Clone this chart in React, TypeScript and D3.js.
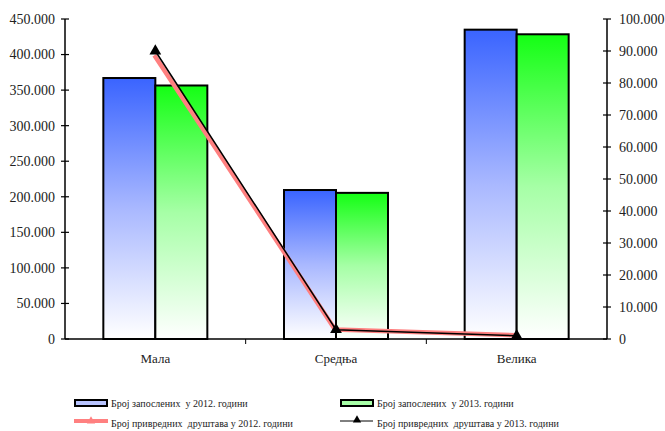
import React from "react";
import * as d3 from "d3";

const categories = ["Мала", "Средња", "Велика"];
const employees2012 = [367000, 209500, 435000];
const employees2013 = [356500, 205500, 428500];
const companies2012 = [89000, 3300, 1500];
const companies2013 = [90000, 2900, 1000];
const leftTicks = [0, 50000, 100000, 150000, 200000, 250000, 300000, 350000, 400000, 450000];
const rightTicks = [0, 10000, 20000, 30000, 40000, 50000, 60000, 70000, 80000, 90000, 100000];
const legendLabels = [
  "Број запослених  у 2012. години",
  "Број запослених  у 2013. години",
  "Број привредних  друштава у 2012. години",
  "Број привредних  друштава у 2013. години",
];

const fmt = (v: number) => (v === 0 ? "0" : d3.format(",")(v).replace(/,/g, "."));

export default function App() {
  const W = 665, H = 431;
  const x0 = 65, x1 = 607, yTop = 19, yBot = 339;
  const x = d3.scaleBand().domain(categories).range([x0, x1]);
  const yL = d3.scaleLinear().domain([0, 450000]).range([yBot, yTop]);
  const yR = d3.scaleLinear().domain([0, 100000]).range([yBot, yTop]);
  const barW = 52;
  const fontStyle = { fontFamily: '"Liberation Serif"' };
  const legStyle = { fontFamily: '"Liberation Serif"', whiteSpace: "pre" as const };
  const line = d3.line<number>().x((_, i) => x(categories[i])! + x.bandwidth() / 2).y((d) => yR(d));
  const tri = d3.symbol().type(d3.symbolTriangle).size(60)();
  const triSmall = d3.symbol().type(d3.symbolTriangle).size(30)();

  return (
    <svg width={W} height={H} style={{ position: "absolute", left: 0, top: 0, ...fontStyle }}>
      <defs>
        <linearGradient id="gBlue" x1="0" y1="0" x2="0" y2="1">
          <stop offset="0" stopColor="#3a64ff" />
          <stop offset="0.5" stopColor="#a9b8ff" />
          <stop offset="1" stopColor="#ffffff" />
        </linearGradient>
        <linearGradient id="gGreen" x1="0" y1="0" x2="0" y2="1">
          <stop offset="0" stopColor="#14ff14" />
          <stop offset="0.5" stopColor="#a6ffa6" />
          <stop offset="1" stopColor="#ffffff" />
        </linearGradient>
      </defs>
      <rect width={W} height={H} fill="#fff" />
      {categories.map((c, i) => {
        const cx = x(c)! + x.bandwidth() / 2;
        return (
          <g key={c}>
            <rect x={cx - barW} y={yL(employees2012[i])} width={barW} height={yBot - yL(employees2012[i])}
              fill="url(#gBlue)" stroke="#000" strokeWidth={2} />
            <rect x={cx} y={yL(employees2013[i])} width={barW} height={yBot - yL(employees2013[i])}
              fill="url(#gGreen)" stroke="#000" strokeWidth={2} />
          </g>
        );
      })}
      <line x1={x0} x2={x0} y1={yTop} y2={yBot} stroke="#000" strokeWidth={1.5} />
      {leftTicks.map((t) => (
        <g key={t}>
          <line x1={x0 - 4} x2={x0 + 4} y1={yL(t)} y2={yL(t)} stroke="#000" strokeWidth={1.2} />
          <text x={55} y={yL(t)} dy="0.35em" textAnchor="end" fontSize={14} fill="#222" style={fontStyle}>{fmt(t)}</text>
        </g>
      ))}
      <line x1={x1} x2={x1} y1={yTop} y2={yBot} stroke="#000" strokeWidth={1.5} />
      {rightTicks.map((t) => (
        <g key={t}>
          <line x1={x1 - 4} x2={x1 + 4} y1={yR(t)} y2={yR(t)} stroke="#000" strokeWidth={1.2} />
          <text x={619} y={yR(t)} dy="0.35em" textAnchor="start" fontSize={14} fill="#222" style={fontStyle}>{fmt(t)}</text>
        </g>
      ))}
      <line x1={x0} x2={x1} y1={yBot} y2={yBot} stroke="#000" strokeWidth={1.5} />
      {categories.map((c, i) => (
        <g key={c}>
          {i > 0 && <line x1={x(c)!} x2={x(c)!} y1={yBot} y2={yBot + 5} stroke="#000" />}
          <text x={x(c)! + x.bandwidth() / 2} y={363} textAnchor="middle" fontSize={13} fill="#222" style={fontStyle}>{c}</text>
        </g>
      ))}
      <path d={line(companies2012)!} fill="none" stroke="#ff8080" strokeWidth={4.5} transform="translate(-1,1)" />
      <path d={line(companies2013)!} fill="none" stroke="#000" strokeWidth={1.5} />
      {companies2013.map((v, i) => (
        <path key={i} d={tri!} transform={`translate(${x(categories[i])! + x.bandwidth() / 2},${yR(v)})`} fill="#000" />
      ))}
      <g fontSize={10} fill="#222">
        <rect x={75} y={400} width={32} height={6} fill="#b8c4ff" stroke="#000" strokeWidth={2} />
        <text x={111} y={407} style={legStyle}>{legendLabels[0]}</text>
        <rect x={341} y={400} width={32} height={6} fill="#a8ffa8" stroke="#000" strokeWidth={2} />
        <text x={377} y={407} style={legStyle}>{legendLabels[1]}</text>
        <line x1={74} x2={108} y1={421} y2={421} stroke="#ff8080" strokeWidth={4} />
        <path d={triSmall!} transform="translate(91,421)" fill="#ff8080" />
        <text x={111} y={427} style={legStyle}>{legendLabels[2]}</text>
        <line x1={340} x2={373} y1={421} y2={421} stroke="#000" strokeWidth={1} />
        <path d={triSmall!} transform="translate(357,420)" fill="#000" />
        <text x={377} y={427} style={legStyle}>{legendLabels[3]}</text>
      </g>
    </svg>
  );
}
